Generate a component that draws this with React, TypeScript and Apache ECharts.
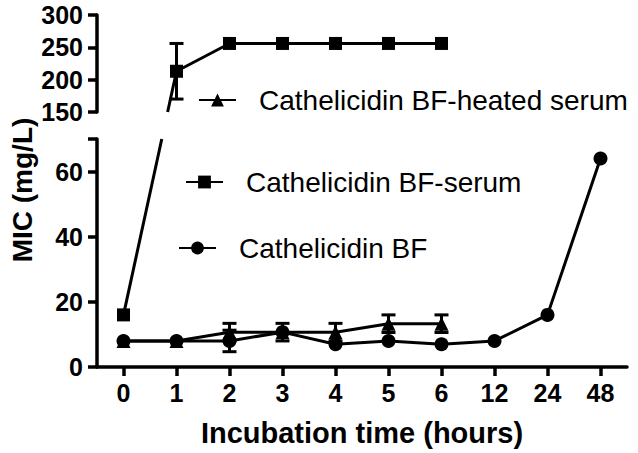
import React, { useEffect, useRef } from 'react';
import * as echarts from 'echarts';

const categories = ['0', '1', '2', '3', '4', '5', '6', '12', '24', '48'];
const bfValues = [8, 8, 8, 10.7, 7, 8, 7, 8, 16, 64];
const bfErrors = [0, 0, 3.3, 0, 0, 0, 0, 0, 0, 0];
const serumValues: (number | null)[] = [16, 213, 256, 256, 256, 256, 256, null, null, null];
const serumErrors: (number | null)[] = [0, 43, 0, 0, 0, 0, 0, null, null, null];
const heatedValues: (number | null)[] = [8, 8, 10.7, 10.7, 10.7, 13.3, 13.3, null, null, null];
const heatedErrors: (number | null)[] = [0, 0, 2.7, 2.7, 2.7, 2.7, 2.7, null, null, null];
const upperTicks = [150, 200, 250, 300];
const lowerLabels = [0, 20, 40, 60];
const lowerTicks = [0, 20, 40, 60, 70];
const upperRange = [150, 300];
const lowerRange = [0, 70];

const NAME_BF = 'Cathelicidin BF';
const NAME_SERUM = 'Cathelicidin BF-serum';
const NAME_HEATED = 'Cathelicidin BF-heated serum';

const FONT = "'Liberation Sans', Arial, Helvetica, sans-serif";

const inRange = (v: number | null, r: number[]) => v !== null && v >= r[0] && v <= r[1];

function errData(vals: (number | null)[], errs: (number | null)[], r: number[]) {
  const out: number[][] = [];
  vals.forEach((v, i) => {
    const e = errs[i];
    if (v !== null && inRange(v, r) && e) out.push([i, v - e, v + e]);
  });
  return out;
}

const errRender = (params: any, api: any) => {
  const x = api.value(0);
  const lo = api.coord([x, api.value(1)]);
  const hi = api.coord([x, api.value(2)]);
  const hw = 7;
  const style = { stroke: '#000', lineWidth: 3 };
  return {
    type: 'group',
    children: [
      { type: 'line', shape: { x1: lo[0], y1: lo[1], x2: hi[0], y2: hi[1] }, style },
      { type: 'line', shape: { x1: lo[0] - hw, y1: lo[1], x2: lo[0] + hw, y2: lo[1] }, style },
      { type: 'line', shape: { x1: hi[0] - hw, y1: hi[1], x2: hi[0] + hw, y2: hi[1] }, style },
    ],
  };
};

export default function App() {
  const ref = useRef<HTMLDivElement>(null);
  useEffect(() => {
    if (!ref.current) return;
    const chart = echarts.init(ref.current, null, { renderer: 'svg' });
    const axisLine = { show: true, lineStyle: { color: '#000', width: 3.5 } };
    const axisTick = { show: true, length: 9, lineStyle: { color: '#000', width: 3.5 } };
    const labelStyle = { color: '#000', fontSize: 25, fontWeight: 'bold' as const, fontFamily: FONT };
    const lineCommon = {
      type: 'line' as const,
      lineStyle: { color: '#000', width: 3 },
      itemStyle: { color: '#000' },
      connectNulls: false,
      z: 3,
    };
    const legendCommon = {
      orient: 'horizontal' as const,
      padding: 0,
      itemWidth: 37,
      itemHeight: 16,
      selectedMode: false,
      textStyle: { color: '#000', fontSize: 28, fontFamily: FONT, padding: [0, 0, 0, 18] },
    };
    const option: any = {
      animation: false,
      backgroundColor: '#fff',
      grid: [
        { left: 97, right: 11, top: 15, height: 97, outerBoundsMode: 'none' },
        { left: 97, right: 11, top: 139, height: 228, outerBoundsMode: 'none' },
      ],
      xAxis: [
        { type: 'category', gridIndex: 0, data: categories, show: false, boundaryGap: true },
        {
          type: 'category',
          gridIndex: 1,
          data: categories,
          boundaryGap: true,
          axisLine: { ...axisLine, onZero: false },
          axisTick: { ...axisTick, alignWithLabel: true },
          axisLabel: { ...labelStyle, margin: 13 },
          splitLine: { show: false },
          name: 'Incubation time (hours)',
          nameLocation: 'middle',
          nameGap: 51,
          nameTextStyle: { color: '#000', fontSize: 29, fontWeight: 'bold', fontFamily: FONT },
        },
      ],
      yAxis: [
        {
          type: 'value',
          gridIndex: 0,
          min: upperRange[0],
          max: upperRange[1],
          axisLine,
          axisTick: { ...axisTick, customValues: upperTicks },
          axisLabel: { ...labelStyle, margin: 14, customValues: upperTicks },
          splitLine: { show: false },
        },
        {
          type: 'value',
          gridIndex: 1,
          min: lowerRange[0],
          max: lowerRange[1],
          axisLine,
          axisTick: { ...axisTick, customValues: lowerTicks },
          axisLabel: { ...labelStyle, margin: 14, customValues: lowerLabels },
          splitLine: { show: false },
        },
      ],
      legend: [
        { ...legendCommon, left: 198, top: 86, data: [NAME_HEATED] },
        { ...legendCommon, left: 185, top: 168, data: [NAME_SERUM] },
        { ...legendCommon, left: 178, top: 234, data: [NAME_BF] },
      ],
      series: [
        {
          ...lineCommon,
          name: NAME_HEATED,
          xAxisIndex: 1,
          yAxisIndex: 1,
          symbol: 'triangle',
          symbolSize: 14,
          data: heatedValues.map((v) => (inRange(v, lowerRange) ? v : null)),
        },
        {
          ...lineCommon,
          name: NAME_SERUM,
          xAxisIndex: 1,
          yAxisIndex: 1,
          symbol: 'rect',
          symbolSize: 13,
          data: serumValues.map((v) => (inRange(v, lowerRange) ? v : null)),
        },
        {
          ...lineCommon,
          name: NAME_SERUM,
          xAxisIndex: 0,
          yAxisIndex: 0,
          symbol: 'rect',
          symbolSize: 13,
          data: serumValues.map((v) => (inRange(v, upperRange) ? v : null)),
        },
        {
          ...lineCommon,
          name: NAME_BF,
          xAxisIndex: 1,
          yAxisIndex: 1,
          symbol: 'circle',
          symbolSize: 14,
          data: bfValues.map((v) => (inRange(v, lowerRange) ? v : null)),
        },
        {
          type: 'custom',
          xAxisIndex: 1,
          yAxisIndex: 1,
          renderItem: errRender,
          encode: { x: 0, y: [1, 2] },
          data: [
            ...errData(heatedValues, heatedErrors, lowerRange),
            ...errData(bfValues, bfErrors, lowerRange),
            ...errData(serumValues, serumErrors, lowerRange),
          ],
          z: 4,
        },
        {
          type: 'custom',
          xAxisIndex: 0,
          yAxisIndex: 0,
          renderItem: errRender,
          encode: { x: 0, y: [1, 2] },
          data: errData(serumValues, serumErrors, upperRange),
          z: 4,
        },
      ],
      graphic: [
        {
          type: 'text',
          x: 22,
          y: 190,
          rotation: Math.PI / 2,
          style: {
            text: 'MIC (mg/L)',
            fill: '#000',
            fontSize: 28,
            fontWeight: 'bold',
            fontFamily: FONT,
            align: 'center',
            verticalAlign: 'middle',
          },
        },
      ],
    };
    chart.setOption(option);

    // Lines crossing the axis break: straight in screen space, clipped to each panel
    const lowTopY = chart.convertToPixel({ gridIndex: 1 } as any, [0, lowerRange[1]])[1];
    const upBotY = chart.convertToPixel({ gridIndex: 0 } as any, [0, upperRange[0]])[1];
    const extra: any[] = [];
    for (let i = 0; i < serumValues.length - 1; i++) {
      const a = serumValues[i];
      const b = serumValues[i + 1];
      if (a === null || b === null) continue;
      if (inRange(a, lowerRange) && inRange(b, upperRange)) {
        const p0 = chart.convertToPixel({ gridIndex: 1 } as any, [i, a]);
        const p1 = chart.convertToPixel({ gridIndex: 0 } as any, [i + 1, b]);
        const xAt = (y: number) => p0[0] + ((p1[0] - p0[0]) * (y - p0[1])) / (p1[1] - p0[1]);
        const style = { stroke: '#000', lineWidth: 3 };
        extra.push({ type: 'line', z: 2, shape: { x1: p0[0], y1: p0[1], x2: xAt(lowTopY), y2: lowTopY }, style });
        extra.push({ type: 'line', z: 2, shape: { x1: xAt(upBotY), y1: upBotY, x2: p1[0], y2: p1[1] }, style });
      }
    }
    chart.setOption({ graphic: [...option.graphic, ...extra] });

    return () => chart.dispose();
  }, []);
  return (
    <div
      ref={ref}
      style={{ position: 'fixed', left: 0, top: 0, width: 638, height: 453, background: '#fff' }}
    />
  );
}
